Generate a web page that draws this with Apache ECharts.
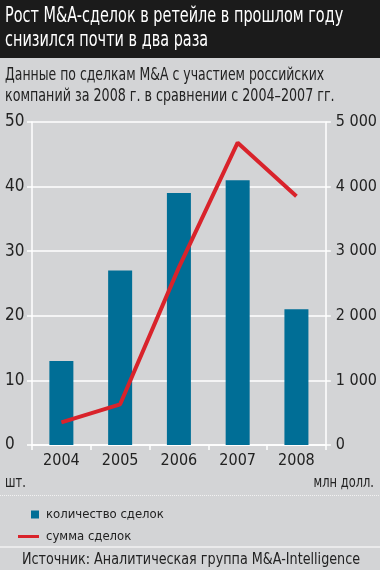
<!DOCTYPE html>
<html><head><meta charset="utf-8">
<script src="https://cdn.jsdelivr.net/npm/echarts@6/dist/echarts.min.js"></script>
<style>html,body{margin:0;padding:0;background:#d3d4d6;}#c{width:380px;height:570px;}</style>
</head><body><div id="c"></div>
<script>
var years = ['2004','2005','2006','2007','2008'];
var dealsCount = [13, 27, 39, 41, 21];
var dealsSum = [350, 630, 2750, 4680, 3850];
var leftTicks = [0, 10, 20, 30, 40, 50];
var rightTicks = [0, 1000, 2000, 3000, 4000, 5000];

var FONT = "'DejaVu Sans Condensed', 'Liberation Sans Narrow', sans-serif";
function txt(text, x, y, size, color, sx, align) {
  return {type: 'text', x: x, y: y, scaleX: sx, originX: 0, originY: 0, silent: true,
    style: {text: text, fill: color, font: size + 'px ' + FONT, verticalAlign: 'middle', align: align || 'left'}};
}
var chart = echarts.init(document.getElementById('c'));
chart.setOption({
  backgroundColor: '#d3d4d6',
  animation: false,
  graphic: [
    {type: 'rect', shape: {x: 0, y: 0, width: 380, height: 58}, style: {fill: '#1b1b1b'}, z: -1, silent: true},
    txt('Рост M&A-сделок в ретейле в прошлом году', 5, 17, 21, '#ffffff', 0.765),
    txt('снизился почти в два раза', 5, 41, 21, '#ffffff', 0.765),
    txt('Данные по сделкам M&A с участием российских', 5, 76, 17, '#222222', 0.815),
    txt('компаний за 2008 г. в сравнении с 2004–2007 гг.', 5, 97, 17, '#222222', 0.83),
    txt('шт.', 5, 483, 15, '#222222', 0.85),
    txt('млн долл.', 374, 483, 15, '#222222', 0.85, 'right'),
    txt('Источник: Аналитическая группа M&A-Intelligence', 22, 560, 16.5, '#222222', 0.86),
    {type: 'line', shape: {x1: 0, y1: 495.5, x2: 380, y2: 495.5}, style: {stroke: '#f2f2f2', lineWidth: 1, lineDash: [1, 1]}, silent: true},
    {type: 'line', shape: {x1: 0, y1: 547, x2: 380, y2: 547}, style: {stroke: '#f2f2f2', lineWidth: 1.5}, silent: true}
  ],
  legend: [
    {data: ['количество сделок'], left: 26, top: 503, itemWidth: 8, itemHeight: 8, icon: 'rect', itemGap: 0,
     textStyle: {color: '#222', fontFamily: FONT, fontSize: 13, padding: [0, 0, 0, 2]}},
    {data: ['сумма сделок'], left: 13, top: 525, itemWidth: 21, itemHeight: 3, icon: 'rect', itemGap: 0,
     textStyle: {color: '#222', fontFamily: FONT, fontSize: 13, padding: [0, 0, 0, 2]}}
  ],
  grid: {left: 32, right: 53, top: 122, bottom: 125, containLabel: false},
  xAxis: {
    type: 'category', data: years, boundaryGap: true,
    axisLine: {lineStyle: {color: '#ffffff', width: 1.5}},
    axisTick: {show: true, length: 5, lineStyle: {color: '#ffffff', width: 1.5}},
    axisLabel: {color: '#222', fontFamily: FONT, fontSize: 16, margin: 8}
  },
  yAxis: [
    {type: 'value', min: leftTicks[0], max: leftTicks[leftTicks.length - 1], interval: 10,
     axisLine: {show: true, lineStyle: {color: '#ffffff', width: 1.5}},
     axisTick: {show: true, length: 5, lineStyle: {color: '#ffffff', width: 1.5}},
     splitLine: {show: true, lineStyle: {color: '#ffffff', width: 1.5}},
     axisLabel: {color: '#222', fontFamily: FONT, fontSize: 17, align: 'left', margin: 27}},
    {type: 'value', min: rightTicks[0], max: rightTicks[rightTicks.length - 1], interval: 1000, position: 'right',
     axisLine: {show: true, lineStyle: {color: '#ffffff', width: 1.5}},
     axisTick: {show: true, length: 5, lineStyle: {color: '#ffffff', width: 1.5}},
     splitLine: {show: false},
     axisLabel: {color: '#222', fontFamily: FONT, fontSize: 16, align: 'left', margin: 10,
       formatter: function (v) { return v >= 1000 ? Math.floor(v / 1000) + ' ' + ('00' + (v % 1000)).slice(-3) : String(v); }}}
  ],
  series: [
    {name: 'количество сделок', type: 'bar', data: dealsCount, yAxisIndex: 0, barWidth: 24,
     itemStyle: {color: '#006e96'}},
    {name: 'сумма сделок', type: 'line', data: dealsSum, yAxisIndex: 1, symbol: 'none',
     lineStyle: {color: '#d9232b', width: 4}, itemStyle: {color: '#d9232b'}}
  ]
});
</script></body></html>
